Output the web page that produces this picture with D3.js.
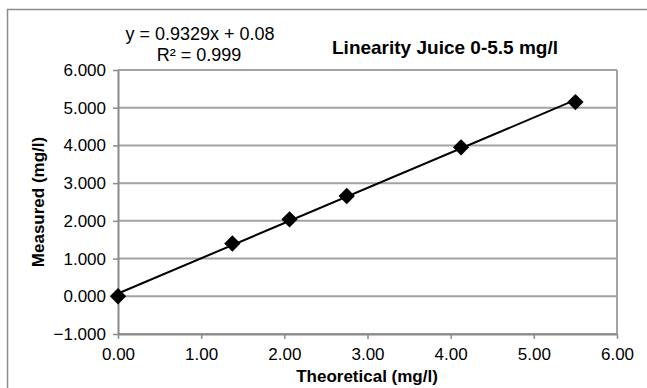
<!DOCTYPE html>
<html>
<head>
<meta charset="utf-8">
<script src="https://cdn.jsdelivr.net/npm/d3@7"></script>
<style>
  body { margin: 0; background: #fff; }
  svg { display: block; font-family: "Liberation Sans", Arial, sans-serif; }
</style>
</head>
<body>
<svg id="chart" width="647" height="388"></svg>
<script>
// data
const theoretical = [0, 1.375, 2.0625, 2.75, 4.125, 5.5];
const measured = [0.0, 1.40, 2.04, 2.66, 3.95, 5.15];
const xTicks = [0, 1, 2, 3, 4, 5, 6];
const yTicks = [-1, 0, 1, 2, 3, 4, 5, 6];
const equationText = 'y = 0.9329x + 0.08';
const r2Text = 'R² = 0.999';
const titleText = 'Linearity Juice 0-5.5 mg/l';

const margin = { top: 70, right: 30, bottom: 54, left: 118 };
const width = 647, height = 388;

const svg = d3.select('#chart');

// outer chart frame (runs off the right and bottom edge)
svg.append('rect')
  .attr('x', 7.5).attr('y', 9.5)
  .attr('width', 700).attr('height', 400)
  .attr('fill', 'none')
  .attr('stroke', '#8c8c8c')
  .attr('stroke-width', 1.5);

const x = d3.scaleLinear()
  .domain([0, 6])
  .range([margin.left, width - margin.right]);

const y = d3.scaleLinear()
  .domain([-1, 6])
  .range([height - margin.bottom, margin.top]);

// gridlines
svg.selectAll('.grid')
  .data(yTicks)
  .enter()
  .append('line')
  .attr('class', 'grid')
  .attr('x1', x(0)).attr('x2', x(6))
  .attr('y1', d => y(d)).attr('y2', d => y(d))
  .style('stroke', '#a3a3a3')
  .style('stroke-width', 2);

// right border of plot area
svg.append('line')
  .attr('x1', x(6)).attr('x2', x(6))
  .attr('y1', y(6)).attr('y2', y(-1))
  .style('stroke', '#a3a3a3')
  .style('stroke-width', 2);

// axes
const xAxis = d3.axisBottom(x)
  .tickValues(xTicks)
  .tickSize(5)
  .tickSizeOuter(0)
  .tickFormat(d3.format('.2f'));

const yAxis = d3.axisLeft(y)
  .tickValues(yTicks)
  .tickSize(5)
  .tickSizeOuter(0)
  .tickFormat(d3.format('.3f'));

const gx = svg.append('g')
  .attr('transform', `translate(0,${y(-1)})`)
  .call(xAxis);

const gy = svg.append('g')
  .attr('transform', `translate(${x(0)},0)`)
  .call(yAxis);

[gx, gy].forEach(g => {
  g.select('.domain').attr('stroke', '#8a8a8a').attr('stroke-width', 2);
  g.selectAll('.tick line').attr('stroke', '#8a8a8a').attr('stroke-width', 1.5);
  g.selectAll('.tick text')
    .attr('fill', '#000')
    .style('font-family', '"Liberation Sans", Arial, sans-serif')
    .style('font-size', '17px');
});
gx.selectAll('.tick text').attr('dy', '1.05em');
gy.selectAll('.tick text').attr('x', -12);

// linear trendline from least squares
const mx = d3.mean(theoretical), my = d3.mean(measured);
const slope = d3.sum(theoretical, (v, i) => (v - mx) * (measured[i] - my)) /
  d3.sum(theoretical, v => (v - mx) * (v - mx));
const intercept = my - slope * mx;
const ext = d3.extent(theoretical);

svg.append('line')
  .attr('x1', x(ext[0])).attr('y1', y(slope * ext[0] + intercept))
  .attr('x2', x(ext[1])).attr('y2', y(slope * ext[1] + intercept))
  .style('stroke', '#000')
  .style('stroke-width', 2);

// diamond markers
const diamond = d3.symbol().type(d3.symbolDiamond2).size(170);
svg.selectAll('.pt')
  .data(theoretical.map((t, i) => ({ t, m: measured[i] })))
  .enter()
  .append('path')
  .attr('class', 'pt')
  .attr('d', diamond)
  .attr('transform', d => `translate(${x(d.t)},${y(d.m)})`)
  .attr('fill', '#000');

// equation label
svg.append('text')
  .attr('x', 200).attr('y', 40)
  .attr('text-anchor', 'middle')
  .style('font-size', '18px')
  .text(equationText);
svg.append('text')
  .attr('x', 199).attr('y', 61)
  .attr('text-anchor', 'middle')
  .style('font-size', '18px')
  .text(r2Text);

// title
svg.append('text')
  .attr('x', 445).attr('y', 54)
  .attr('text-anchor', 'middle')
  .style('font-size', '19px')
  .style('font-weight', 'bold')
  .text(titleText);

// axis titles
svg.append('text')
  .attr('x', 367).attr('y', 382)
  .attr('text-anchor', 'middle')
  .style('font-size', '17px')
  .style('font-weight', 'bold')
  .text('Theoretical (mg/l)');

svg.append('text')
  .attr('transform', 'translate(44,202) rotate(-90)')
  .attr('text-anchor', 'middle')
  .style('font-size', '17px')
  .style('font-weight', 'bold')
  .text('Measured (mg/l)');
</script>
</body>
</html>
